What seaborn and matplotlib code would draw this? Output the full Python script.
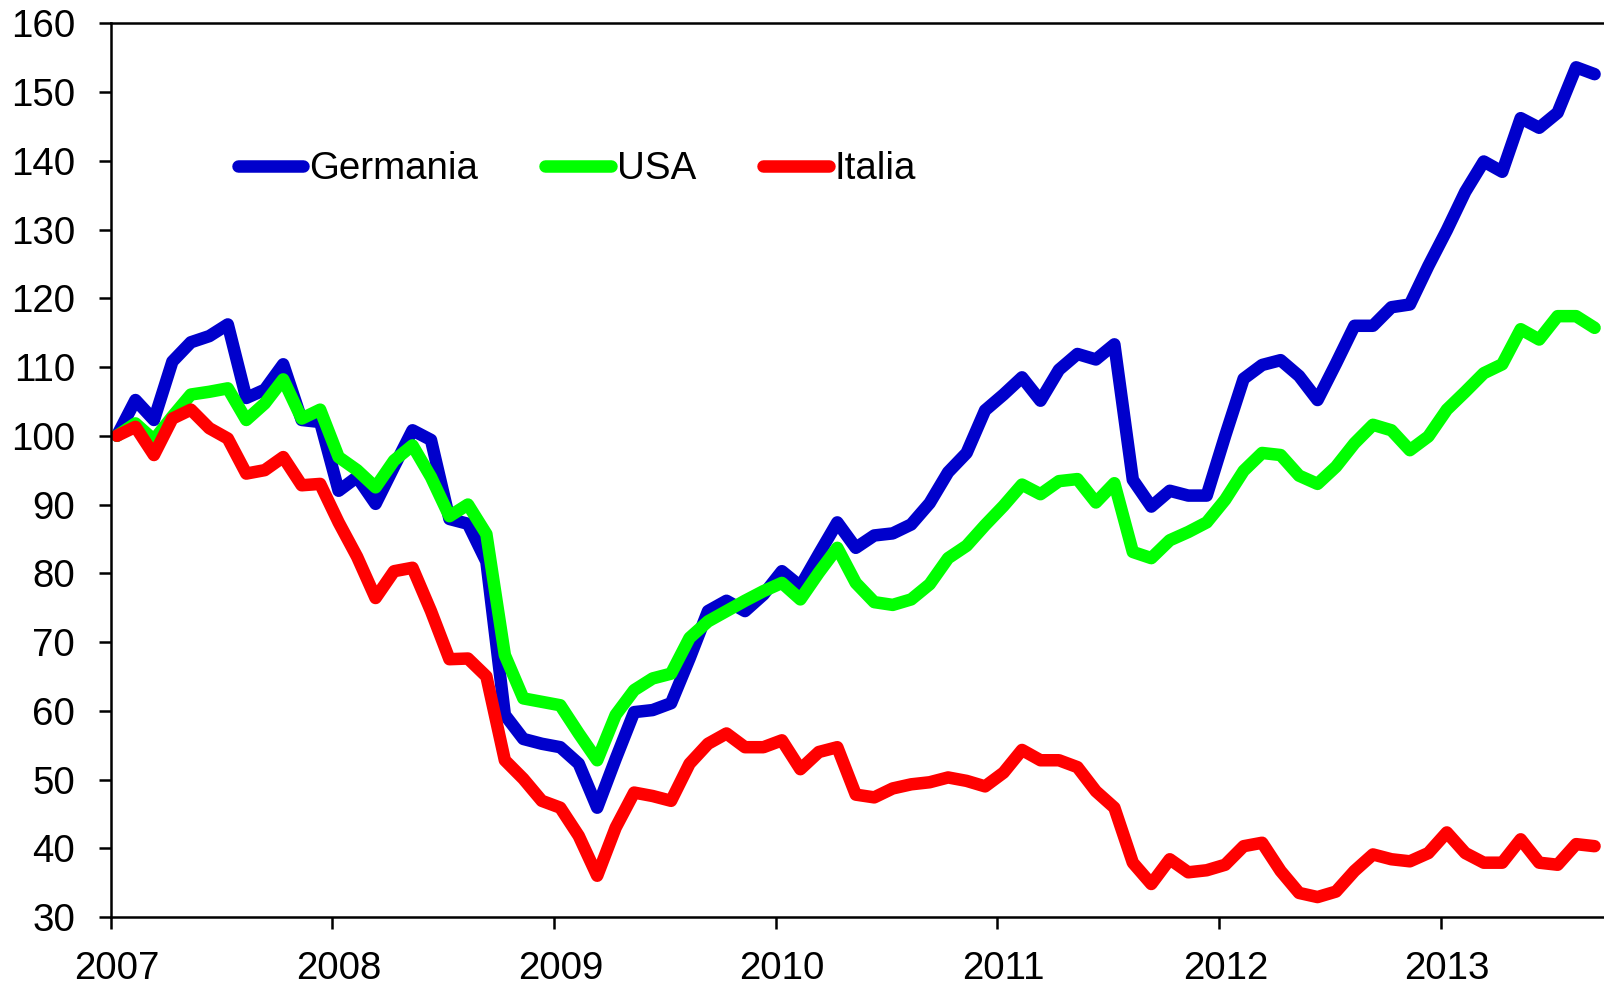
import numpy as np
import pandas as pd
import matplotlib
matplotlib.use("Agg")
import matplotlib.pyplot as plt
import seaborn as sns
from matplotlib.transforms import ScaledTranslation
from matplotlib.lines import Line2D

# ---- data (monthly index, Jan 2007 = 100) ----
anni = ["2007", "2008", "2009", "2010", "2011", "2012", "2013"]
serie = ["Germania", "USA", "Italia"]
colori = ["#0000CC", "#00FF00", "#FF0000"]

germania = [100.0, 105.2, 102.3, 110.8, 113.6, 114.5, 116.2, 105.5, 106.7, 110.4,
            102.3, 102.0, 92.0, 94.0, 90.1, 95.5, 100.8, 99.4, 87.9, 87.2,
            81.7, 59.4, 55.9, 55.2, 54.7, 52.3, 45.9, 53.0, 59.8, 60.1,
            61.1, 67.6, 74.5, 76.0, 74.5, 76.9, 80.3, 78.1, 82.8, 87.4,
            83.7, 85.5, 85.8, 87.1, 90.2, 94.7, 97.5, 103.7, 106.0, 108.5,
            105.1, 109.6, 111.9, 111.1, 113.3, 93.6, 89.7, 92.0, 91.3, 91.3,
            100.0, 108.3, 110.3, 111.0, 108.7, 105.2, 110.5, 116.0, 116.0, 118.7,
            119.1, 124.7, 129.9, 135.5, 139.9, 138.4, 146.2, 144.8, 147.0, 153.6,
            152.6]
usa = [100.0, 101.8, 99.4, 102.8, 106.0, 106.4, 106.9, 102.3, 104.7, 108.2,
       102.5, 103.8, 96.9, 95.0, 92.5, 96.4, 98.6, 94.0, 88.3, 90.0,
       85.7, 68.1, 61.8, 61.3, 60.8, 56.7, 52.8, 59.4, 63.0, 64.7,
       65.4, 70.6, 73.0, 74.5, 76.0, 77.4, 78.6, 76.2, 80.1, 83.7,
       78.6, 75.8, 75.4, 76.2, 78.4, 82.2, 84.0, 87.0, 89.8, 92.9,
       91.5, 93.4, 93.7, 90.3, 93.1, 83.1, 82.2, 84.8, 86.0, 87.4,
       90.7, 94.9, 97.5, 97.2, 94.2, 93.0, 95.5, 98.9, 101.6, 100.8,
       97.9, 99.9, 103.8, 106.4, 109.1, 110.4, 115.5, 114.0, 117.4, 117.4,
       115.7]
italia = [100.0, 101.3, 97.2, 102.5, 103.8, 101.1, 99.6, 94.5, 95.0, 96.9,
          92.8, 93.0, 87.4, 82.4, 76.4, 80.3, 80.8, 74.5, 67.5, 67.6,
          65.0, 52.8, 50.1, 46.9, 45.9, 41.8, 36.0, 43.0, 48.1, 47.6,
          46.9, 52.3, 55.2, 56.7, 54.7, 54.7, 55.7, 51.5, 54.0, 54.7,
          47.8, 47.4, 48.7, 49.3, 49.6, 50.3, 49.8, 49.0, 51.0, 54.3,
          52.8, 52.8, 51.8, 48.3, 45.9, 37.9, 34.8, 38.4, 36.5, 36.8,
          37.6, 40.3, 40.8, 36.7, 33.5, 32.9, 33.7, 36.7, 39.1, 38.4,
          38.1, 39.3, 42.3, 39.3, 37.9, 37.9, 41.3, 37.9, 37.6, 40.6,
          40.3]

mesi = np.arange(len(germania))
df = pd.DataFrame({
    "mese": np.tile(mesi, 3),
    "valore": germania + usa + italia,
    "paese": np.repeat(serie, len(mesi)),
})

sns.set_theme(style="white")
plt.rcParams["font.family"] = ["Liberation Sans", "DejaVu Sans"]
plt.rcParams["text.color"] = "black"

FS = 27.7
LW = 9

fig = plt.figure(figsize=(16.04, 9.86), dpi=100)
ax = fig.add_axes([110.7 / 1604, 1 - 917 / 986, 1 - 110.7 / 1604, (917 - 23.3) / 986])

sns.lineplot(data=df, x="mese", y="valore", hue="paese", hue_order=serie,
             palette=colori, linewidth=LW, estimator=None, sort=False,
             legend=False, ax=ax,
             solid_capstyle="round", solid_joinstyle="round")

off = 0.34
ax.set_xlim(-off, 80.51)
ax.set_ylim(30, 160)
ax.set_yticks(np.arange(30, 161, 10))
ax.set_xticks([-off + 12 * k for k in range(len(anni))])
ax.set_xticklabels(anni)
ax.set_xlabel("")
ax.set_ylabel("")

for side in ["left", "bottom", "top"]:
    ax.spines[side].set_visible(True)
    ax.spines[side].set_color("black")
    ax.spines[side].set_linewidth(1.8)
ax.spines["right"].set_visible(False)

ax.tick_params(axis="both", which="major", direction="out", length=8.6,
               width=1.8, color="black", labelsize=FS, labelcolor="black")
ax.tick_params(axis="x", bottom=True, top=False, pad=16)
ax.tick_params(axis="y", left=True, right=False, pad=17)

shift = ScaledTranslation(6.5 / 100, 0, fig.dpi_scale_trans)
for lab in ax.get_xticklabels():
    lab.set_transform(lab.get_transform() + shift)

handles = [Line2D([], [], color=c, lw=LW, solid_capstyle="round") for c in colori]
leg = ax.legend(handles, serie, ncol=3, frameon=False, loc="center left",
                bbox_to_anchor=(238 / 1604, 1 - 169 / 986), bbox_transform=fig.transFigure,
                handlelength=1.7, handletextpad=0.15, columnspacing=1.75,
                borderpad=0, borderaxespad=0, fontsize=FS)
for t in leg.get_texts():
    t.set_color("black")

fig.savefig("out.png", dpi=100)
